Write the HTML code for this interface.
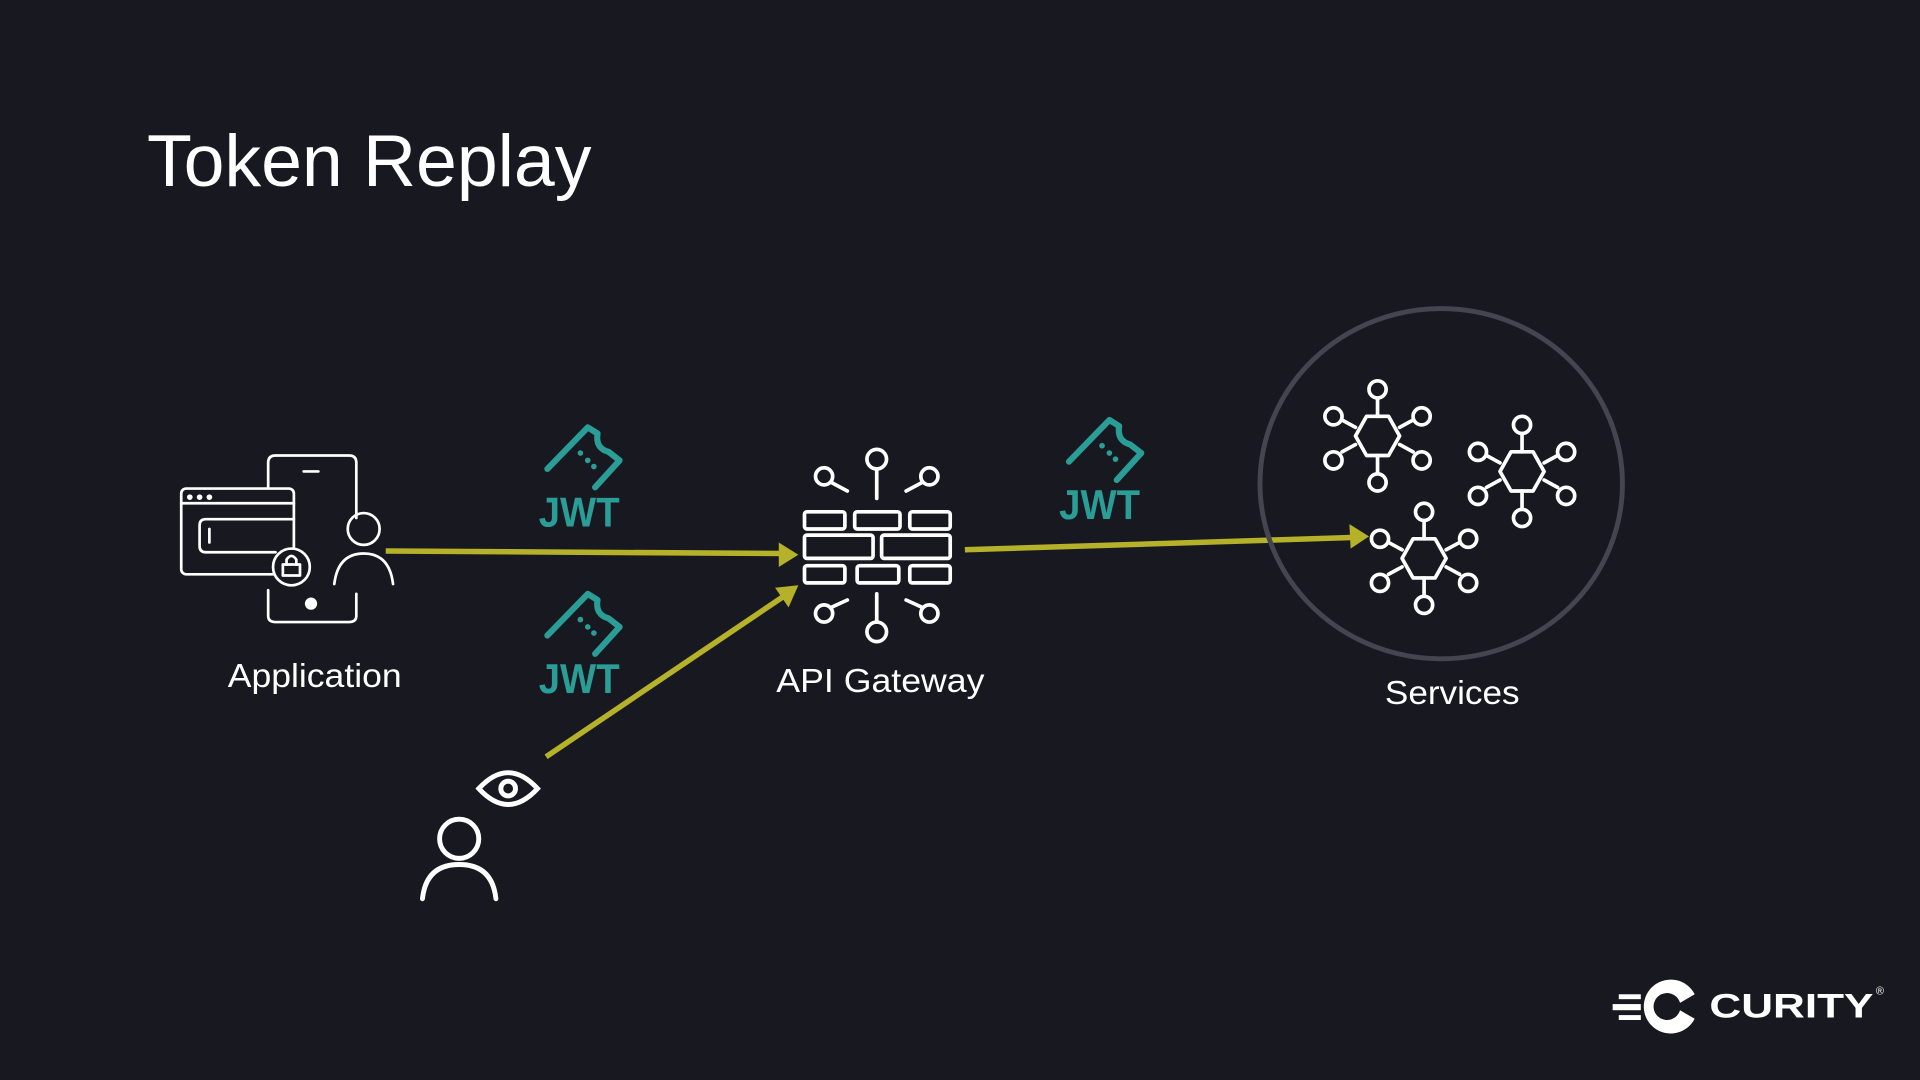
<!DOCTYPE html>
<html><head><meta charset="utf-8"><style>
html,body{margin:0;padding:0;background:#181920;width:1920px;height:1080px;overflow:hidden}
svg{display:block}
text{font-family:"Liberation Sans",sans-serif}
</style></head><body>
<svg width="1920" height="1080" viewBox="0 0 1568 882" xmlns="http://www.w3.org/2000/svg">
<rect width="1568" height="882" fill="#181920"/>
<defs>
<linearGradient id="gv" x1="0" y1="0" x2="0" y2="1"><stop offset="0" stop-color="#6a3050" stop-opacity="0"/><stop offset="0.5" stop-color="#6a3050" stop-opacity="0.7"/><stop offset="1" stop-color="#6a3050" stop-opacity="0.3"/></linearGradient>
<linearGradient id="gh" x1="0" y1="0" x2="1" y2="0"><stop offset="0" stop-color="#6a3050" stop-opacity="0"/><stop offset="0.4" stop-color="#6a3050" stop-opacity="0.7"/><stop offset="1" stop-color="#6a3050" stop-opacity="0.35"/></linearGradient>
<g id="tk" fill="none" stroke="#2a9d96" stroke-width="5" stroke-linecap="round" stroke-linejoin="round">
<path d="M-29,-2 L4,-36 L12,-31 Q10,-19 21,-16 L30,-9 L10,13"/>
<circle cx="-2" cy="-15" r="2.3" fill="#2a9d96" stroke="none"/>
<circle cx="4" cy="-9" r="2.3" fill="#2a9d96" stroke="none"/>
<circle cx="9" cy="-4" r="2.3" fill="#2a9d96" stroke="none"/>
</g>
<g id="hex" fill="none" stroke="#fff" stroke-width="3" stroke-linecap="round" stroke-linejoin="round">
<polygon points="-9,-16 9,-16 18,0 9,16 -9,16 -18,0"/>
<line x1="0" y1="-16" x2="0" y2="-30"/><circle cx="0" cy="-38" r="7"/>
<line x1="0" y1="16" x2="0" y2="30"/><circle cx="0" cy="38" r="7"/>
<line x1="-18" y1="-7" x2="-29" y2="-13"/><circle cx="-36" cy="-16" r="7"/>
<line x1="18" y1="-7" x2="29" y2="-13"/><circle cx="36" cy="-16" r="7"/>
<line x1="-18" y1="7" x2="-29" y2="13"/><circle cx="-36" cy="20" r="7"/>
<line x1="18" y1="7" x2="29" y2="13"/><circle cx="36" cy="20" r="7"/>
</g>
</defs>
<g stroke-width="1.2">
<line x1="968" y1="420" x2="968" y2="882" stroke="url(#gv)"/>
<line x1="1145" y1="420" x2="1145" y2="882" stroke="url(#gv)"/>
<line x1="1321" y1="420" x2="1321" y2="882" stroke="url(#gv)"/>
<line x1="1497" y1="420" x2="1497" y2="882" stroke="url(#gv)"/>
<line x1="880" y1="537" x2="1568" y2="537" stroke="url(#gh)"/>
<line x1="880" y1="638" x2="1568" y2="638" stroke="url(#gh)"/>
<line x1="880" y1="741" x2="1568" y2="741" stroke="url(#gh)"/>
</g>
<text x="120" y="152" font-size="60" fill="#fff" textLength="363">Token Replay</text>

<g fill="none" stroke="#fff" stroke-width="2.2" stroke-linecap="round" stroke-linejoin="round">
<path d="M219,398 L219,378 Q219,372 225,372 L285,372 Q291,372 291,378 L291,423"/>
<path d="M219,482 L219,503 Q219,508 225,508 L285,508 Q291,508 291,503 L291,485"/>
<line x1="248" y1="385" x2="260" y2="385"/>
<rect x="148" y="399" width="92" height="70" rx="4"/>
<line x1="148" y1="411" x2="240" y2="411"/>
<path d="M240,424 L168,424 Q163,424 163,429 L163,446 Q163,451 168,451 L225,451"/>
<line x1="171" y1="432" x2="171" y2="443"/>
<circle cx="238" cy="463" r="15" fill="#181920"/>
<rect x="231" y="461" width="14" height="9"/>
<path d="M234,461 L234,457 Q238,451 242,457 L242,461"/>
<circle cx="297" cy="432" r="13"/>
<path d="M273,477 Q276,452 297,452 Q318,452 321,477"/>
</g>
<g fill="#fff"><circle cx="155" cy="406" r="2.3"/><circle cx="163" cy="406" r="2.3"/><circle cx="171" cy="406" r="2.3"/><circle cx="254" cy="493" r="5"/></g>
<text x="257" y="561" font-size="27" fill="#fff" text-anchor="middle" textLength="142" lengthAdjust="spacingAndGlyphs">Application</text>

<g stroke="#b5b22a" stroke-width="4.5" fill="#b5b22a">
<line x1="315" y1="450" x2="638" y2="452"/>
<polygon points="652,453 636,443 636,463" stroke="none"/>
<line x1="446" y1="618" x2="640" y2="487"/>
<polygon points="652,478 633,480 644,496" stroke="none"/>
<line x1="788" y1="449" x2="1104" y2="439"/>
<polygon points="1118,438 1102,428 1103,448" stroke="none"/>
</g>

<use href="#tk" x="476" y="385"/>
<text x="440" y="430" font-size="34" font-weight="bold" fill="#2a9d96" textLength="66" lengthAdjust="spacingAndGlyphs">JWT</text>
<use href="#tk" x="476" y="521"/>
<text x="440" y="566" font-size="34" font-weight="bold" fill="#2a9d96" textLength="66" lengthAdjust="spacingAndGlyphs">JWT</text>
<use href="#tk" x="902" y="379"/>
<text x="865" y="424" font-size="34" font-weight="bold" fill="#2a9d96" textLength="66" lengthAdjust="spacingAndGlyphs">JWT</text>

<g fill="none" stroke="#fff" stroke-width="3" stroke-linecap="round" stroke-linejoin="round">
<rect x="657" y="418" width="33" height="14" rx="2"/><rect x="698" y="418" width="37" height="14" rx="2"/><rect x="743" y="418" width="33" height="14" rx="2"/>
<rect x="657" y="437" width="56" height="19" rx="2"/><rect x="720" y="437" width="56" height="19" rx="2"/>
<rect x="657" y="462" width="33" height="14" rx="2"/><rect x="700" y="462" width="34" height="14" rx="2"/><rect x="743" y="462" width="33" height="14" rx="2"/>
<circle cx="716" cy="375" r="8"/><line x1="716" y1="383" x2="716" y2="407"/>
<circle cx="673" cy="389" r="7"/><line x1="679" y1="394" x2="692" y2="401"/>
<circle cx="759" cy="389" r="7"/><line x1="753" y1="394" x2="740" y2="401"/>
<circle cx="716" cy="516" r="8"/><line x1="716" y1="508" x2="716" y2="485"/>
<circle cx="673" cy="501" r="7"/><line x1="679" y1="496" x2="692" y2="490"/>
<circle cx="759" cy="501" r="7"/><line x1="753" y1="496" x2="740" y2="490"/>
</g>
<text x="719" y="565" font-size="27" fill="#fff" text-anchor="middle" textLength="170" lengthAdjust="spacingAndGlyphs">API Gateway</text>

<ellipse cx="1177" cy="395" rx="148" ry="143" fill="none" stroke="#45454f" stroke-width="4"/>
<use href="#hex" x="1125" y="356"/>
<use href="#hex" x="1243" y="385"/>
<use href="#hex" x="1163" y="456"/>
<text x="1186" y="575" font-size="27" fill="#fff" text-anchor="middle" textLength="110" lengthAdjust="spacingAndGlyphs">Services</text>

<g fill="none" stroke="#fff" stroke-width="4" stroke-linecap="round">
<path d="M391,644 Q415,618 439,644 Q415,670 391,644 Z"/>
<circle cx="415" cy="644" r="6"/>
<circle cx="375" cy="685" r="16"/>
<path d="M345,734 Q348,706 375,706 Q402,706 405,734"/>
</g>

<g fill="#fff">
<rect x="1322" y="812" width="18" height="4"/><rect x="1317" y="820" width="23" height="5"/><rect x="1322" y="829" width="18" height="4"/>
<path d="M1384,812 A22,22 0 1 0 1384,832 L1372,825 A11,11 0 1 1 1372,819 Z"/>
<text x="1396" y="831" font-size="28" font-weight="bold" textLength="134" lengthAdjust="spacingAndGlyphs">CURITY</text>
<text x="1532" y="812" font-size="9">®</text>
</g>
</svg>
</body></html>
